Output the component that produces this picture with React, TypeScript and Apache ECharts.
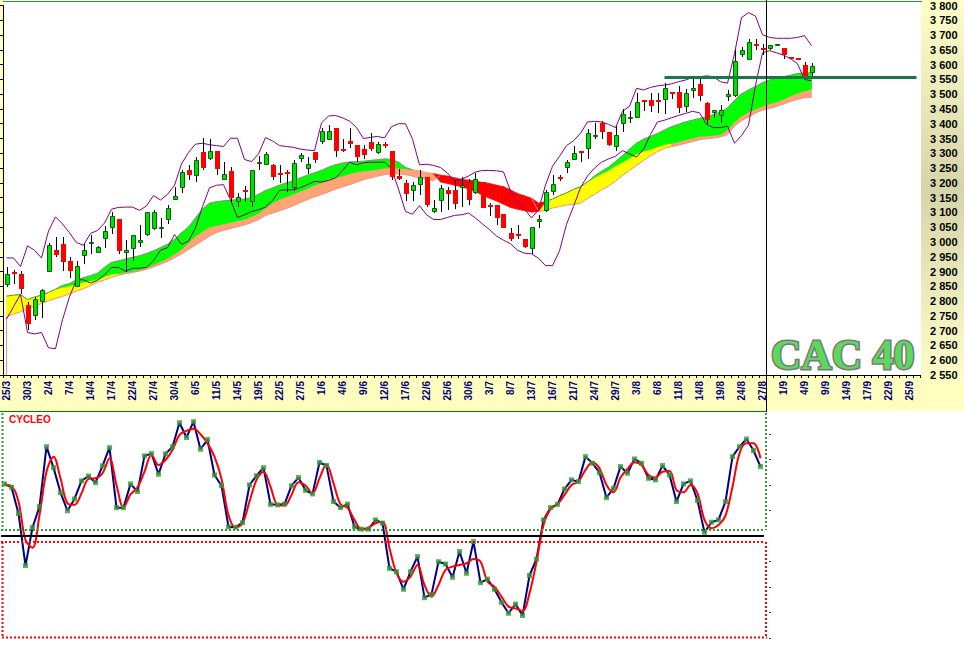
import React, { useEffect, useRef } from 'react';
import * as echarts from 'echarts';

const FONT = 'Liberation Sans, Arial, sans-serif';

// Trading days (2009), one category per session
const dates = ['25/3','26/3','27/3','30/3','31/3',
'1/4','2/4','3/4','6/4','7/4','8/4','9/4','14/4','15/4','16/4','17/4','20/4','21/4','22/4','23/4','24/4','27/4','28/4','29/4','30/4',
'4/5','5/5','6/5','7/5','8/5','11/5','12/5','13/5','14/5','15/5','18/5','19/5','20/5','21/5','22/5','25/5','26/5','27/5','28/5','29/5',
'1/6','2/6','3/6','4/6','5/6','8/6','9/6','10/6','11/6','12/6','15/6','16/6','17/6','18/6','19/6','22/6','23/6','24/6','25/6','26/6','29/6','30/6',
'1/7','2/7','3/7','6/7','7/7','8/7','9/7','10/7','13/7','14/7','15/7','16/7','17/7','20/7','21/7','22/7','23/7','24/7','27/7','28/7','29/7','30/7','31/7',
'3/8','4/8','5/8','6/8','7/8','10/8','11/8','12/8','13/8','14/8','17/8','18/8','19/8','20/8','21/8','24/8','25/8','26/8','27/8','28/8','31/8',
'1/9','2/9','3/9','4/9','7/9','8/9','9/9','10/9','11/9','14/9','15/9','16/9','17/9','18/9','21/9','22/9','23/9','24/9','25/9','28/9'];

// [open, close, low, high]
const ohlc = [
[2855,2892,2848,2917],[2900,2891,2859,2905],[2890,2842,2825,2901],[2787,2722,2703,2798],[2748,2806,2737,2814],
[2796,2839,2742,2842],[2898,2989,2898,2998],[2973,2957,2948,3016],[2992,2931,2903,3016],[2937,2901,2879,2950],
[2848,2920,2848,2937],[2953,2973,2925,2998],[2994,3000,2959,3023],[2964,2983,2962,2985],[3009,3037,2978,3053],
[3048,3089,3028,3103],[3079,2968,2959,3079],[2964,2973,2898,3007],[2975,3023,2937,3025],[2995,3007,2984,3057],
[3022,3100,3020,3100],[3044,3100,3042,3107],[3045,3050,3014,3081],[3075,3116,3061,3125],[3142,3157,3142,3187],
[3183,3237,3167,3242],[3243,3225,3209,3259],[3222,3279,3203,3286],[3305,3251,3244,3353],[3281,3309,3279,3348],
[3309,3248,3225,3309],[3208,3229,3208,3270],[3239,3150,3136,3253],[3134,3151,3117,3167],[3176,3168,3136,3190],
[3136,3242,3117,3242],[3264,3272,3244,3292],[3261,3297,3259,3305],[3261,3220,3209,3265],[3233,3229,3198,3259],
[3237,3231,3170,3244],[3183,3267,3172,3276],[3281,3294,3272,3302],[3248,3263,3231,3287],[3303,3279,3268,3303],
[3337,3376,3331,3387],[3344,3376,3344,3397],[3387,3307,3289,3387],[3313,3309,3303,3350],[3340,3333,3317,3387],
[3328,3289,3272,3328],[3314,3294,3281,3328],[3337,3314,3309,3370],[3301,3333,3298,3337],[3330,3326,3319,3337],
[3307,3220,3209,3307],[3223,3214,3209,3248],[3200,3161,3137,3209],[3172,3192,3139,3203],[3194,3220,3159,3242],
[3220,3126,3117,3220],[3100,3114,3098,3142],[3139,3183,3103,3192],[3176,3161,3109,3187],[3176,3128,3112,3209],
[3181,3192,3120,3220],[3198,3142,3126,3214],[3167,3214,3164,3234],[3203,3114,3114,3203],[3126,3118,3087,3131],
[3126,3081,3059,3126],[3096,3048,3048,3096],[3029,3011,3003,3048],[3028,3024,3009,3056],[3009,2984,2978,3009],
[2976,3050,2959,3050],[3068,3079,3046,3092],[3106,3170,3101,3176],[3168,3196,3159,3226],[3220,3217,3205,3228],
[3251,3270,3234,3279],[3278,3300,3276,3326],[3308,3303,3270,3308],[3314,3370,3281,3381],[3358,3362,3348,3403],
[3403,3372,3348,3409],[3373,3329,3325,3373],[3322,3362,3309,3392],[3398,3433,3372,3450],[3420,3423,3403,3442],
[3420,3475,3418,3503],[3479,3473,3442,3479],[3479,3459,3439,3503],[3479,3476,3437,3503],[3481,3520,3434,3537],
[3507,3501,3484,3507],[3509,3453,3437,3526],[3456,3503,3439,3518],[3512,3522,3487,3550],[3533,3494,3476,3550],
[3470,3414,3398,3473],[3437,3446,3420,3446],[3426,3446,3403,3464],[3489,3501,3476,3514],[3494,3612,3490,3648],
[3631,3651,3626,3659],[3617,3676,3614,3687],[3670,3664,3648,3687],[3657,3648,3631,3670],[3653,3667,3648,3667],
[3669,3670,3669,3670],[3657,3631,3620,3657],[3627,3625,3625,3627],[3624,3622,3622,3624],[3600,3559,3559,3609],
[3572,3594,3561,3605]
];

const bollUpper = [2946,2946,2917,2987,2972,2946,3037,3085,3061,3031,
2998,2989,3029,3039,3064,3111,3117,3118,3118,3107,
3122,3157,3142,3161,3192,3264,3303,3331,3334,3329,
3326,3323,3351,3351,3279,3272,3298,3353,3342,3326,
3323,3320,3314,3311,3309,3403,3426,3428,3420,3409,
3387,3350,3354,3357,3352,3390,3400,3400,3348,3261,
3263,3259,3252,3233,3206,3212,3223,3237,3242,3242,
3241,3237,3172,3137,3112,3081,3109,3193,3256,3290,
3326,3342,3368,3406,3408,3406,3398,3387,3442,3459,
3520,3514,3523,3528,3531,3535,3542,3548,3557,3559,
3562,3559,3542,3537,3637,3759,3776,3764,3701,3692,
3689,3689,3689,3692,3698,3664];

const bollLower = [2739,2781,2823,2694,2689,2694,2642,2639,2737,2815,
2872,2872,2861,2870,2889,2914,2914,2901,2911,2911,
2914,2937,2972,2981,3025,2992,3003,3048,3120,3183,
3192,3194,3142,3083,3092,3103,3109,3118,3140,3175,
3176,3177,3184,3194,3205,3203,3208,3217,3242,3270,
3261,3268,3270,3270,3270,3248,3179,3103,3094,3123,
3092,3076,3076,3083,3090,3092,3098,3081,3061,3042,
3020,3006,2994,2972,2962,2960,2945,2920,2920,2970,
3060,3120,3184,3223,3250,3270,3281,3290,3309,3298,
3287,3314,3364,3406,3412,3420,3428,3435,3442,3437,
3398,3387,3387,3392,3334,3360,3395,3530,3640,3647,
3640,3632,3620,3603,3550,3545];

// three moving averages forming the coloured ribbon
const maFast = [2817,2820,2822,2805,2814,2820,2829,2840,2853,2859,
2872,2879,2886,2894,2914,2931,2936,2942,2948,2953,
2961,2970,2981,2992,3009,3031,3050,3081,3112,3131,
3136,3139,3141,3143,3145,3150,3161,3174,3183,3192,
3200,3207,3217,3226,3234,3242,3253,3261,3267,3270,
3272,3273,3276,3278,3281,3279,3270,3252,3244,3240,
3234,3231,3203,3198,3192,3187,3179,3170,3159,3148,
3139,3128,3117,3111,3106,3101,3103,3137,3145,3157,
3166,3178,3187,3203,3223,3239,3253,3272,3292,3314,
3334,3348,3357,3367,3379,3390,3398,3406,3412,3418,
3423,3431,3439,3453,3479,3501,3514,3526,3539,3548,
3553,3559,3564,3570,3572,3572];

const maMid = [2817,2820,2822,2805,2814,2820,2829,2840,2847,2851,
2859,2864,2869,2873,2883,2892,2894,2898,2901,2905,
2914,2923,2934,2945,2959,2975,2997,3020,3036,3050,
3056,3061,3066,3072,3077,3086,3097,3114,3132,3144,
3153,3162,3172,3181,3192,3200,3209,3217,3223,3231,
3237,3240,3243,3246,3250,3251,3250,3248,3244,3240,
3234,3231,3226,3223,3217,3212,3209,3206,3201,3198,
3192,3187,3176,3164,3156,3148,3131,3137,3145,3157,
3166,3178,3187,3203,3218,3231,3242,3257,3270,3284,
3298,3307,3314,3322,3330,3334,3339,3346,3351,3357,
3359,3361,3364,3379,3406,3426,3439,3450,3459,3468,
3474,3483,3494,3503,3511,3517];

const maSlow = [2747,2756,2764,2773,2783,2792,2801,2809,2816,2825,
2834,2842,2853,2864,2872,2881,2888,2893,2897,2902,
2908,2916,2925,2935,2947,2960,2975,2990,3005,3020,
3032,3040,3046,3052,3058,3066,3076,3090,3098,3106,
3114,3123,3134,3144,3153,3161,3170,3179,3187,3194,
3203,3211,3217,3223,3228,3231,3231,3228,3223,3217,
3212,3208,3226,3223,3217,3212,3209,3206,3201,3198,
3192,3187,3176,3164,3156,3148,3103,3107,3115,3120,
3125,3128,3131,3148,3161,3176,3189,3206,3226,3242,
3259,3276,3292,3306,3317,3323,3328,3334,3340,3346,
3350,3352,3356,3364,3392,3411,3423,3437,3446,3452,
3459,3467,3476,3483,3489,3490];

// colour runs per segment: upper ribbon G=green R=red, lower ribbon Y=yellow S=salmon
const upperRuns: [string, number][] = [['G', 61], ['R', 16], ['G', 38]];
const lowerRuns: [string, number][] = [['Y', 16], ['S', 60], ['Y', 19], ['S', 20]];

const resistanceLevel = 3557;
const resistanceStart = '7/8';

const cycleo = [20.4,19.1,8.8,-11.6,3.3,11.5,35.0,26.8,17.0,9.9,
14.5,21.6,23.5,20.9,27.5,34.6,11.1,11.1,20.4,17.4,
31.4,32.3,24.2,32.2,35.0,44.4,38.6,44.8,34.0,37.8,
23.9,19.7,3.6,3.4,5.2,20.0,23.6,26.8,12.4,12.2,
12.5,19.7,22.9,17.9,16.5,28.8,27.6,13.5,11.1,12.5,
3.6,2.7,2.7,6.3,5.0,-12.7,-14.0,-20.9,-14.0,-8.1,
-24.2,-22.9,-10.1,-11.0,-16.2,-6.1,-14.6,-2.2,-18.3,-16.9,
-20.9,-26.0,-30.3,-26.7,-31.2,-15.5,-9.0,6.3,11.1,12.4,
18.4,22.0,21.3,31.1,28.5,24.8,15.0,18.7,27.2,24.6,
30.2,28.5,22.6,22.0,27.6,23.9,13.5,20.4,21.6,13.9,
1.4,5.4,6.3,13.5,31.1,35.0,38.0,33.5,27.2];

const cycleoSignal = [20.0,19.6,13.5,-1.6,-4.6,8.2,25.2,31.1,22.6,12.8,
12.2,16.7,22.4,22.6,24.6,30.5,20.0,11.1,16.3,19.0,
25.2,31.8,27.8,29.8,33.7,39.6,41.2,42.0,39.9,36.3,
31.1,22.4,8.2,3.3,5.0,13.5,22.0,25.2,19.3,12.2,
11.9,16.1,21.1,19.8,16.7,22.6,28.1,20.7,12.4,11.1,
6.3,2.7,3.3,5.0,5.6,-4.8,-14.6,-17.9,-15.9,-11.4,
-19.2,-23.8,-19.2,-13.3,-12.0,-11.4,-10.7,-9.0,-10.1,-17.9,
-19.9,-23.8,-27.7,-28.4,-29.4,-22.5,-10.1,4.3,10.6,12.4,
16.1,20.0,21.3,25.9,28.9,26.5,20.0,17.1,22.9,26.3,
28.9,27.8,23.9,22.9,25.2,25.5,18.0,17.1,20.0,16.7,
6.3,3.0,4.3,8.0,19.3,32.4,36.3,36.3,30.5];

const cycleoUpper = 2.35;
const cycleoLower = -2.2;
const cycleoTicks = [-40, -30, -20, -10, 10, 20, 30, 40];

function expandRuns(runs: [string, number][]) {
  const out: string[] = [];
  runs.forEach(([c, n]) => { for (let k = 0; k < n; k++) out.push(c); });
  return out;
}

function priceLabel(v: number) {
  const t = Math.floor(v / 1000);
  const r = Math.round(v % 1000);
  return t + ' ' + String(r).padStart(3, '0');
}

function buildOption() {
  const uSeg = expandRuns(upperRuns);
  const lSeg = expandRuns(lowerRuns);
  const bandData: number[][] = [];
  for (let i = 0; i < maFast.length - 1; i++) {
    bandData.push([i, maFast[i], maMid[i], maSlow[i], maFast[i + 1], maMid[i + 1], maSlow[i + 1],
      uSeg[i] === 'R' ? 1 : 0, lSeg[i] === 'Y' ? 0 : 1]);
  }
  const candleData = ohlc.map((d, i) => [i, d[0], d[1], d[2], d[3]]);

  const bandRender = (params: any, api: any) => {
    const i = api.value(0);
    const a0 = api.value(1), b0 = api.value(2), c0 = api.value(3);
    const a1 = api.value(4), b1 = api.value(5), c1 = api.value(6);
    const uc = api.value(7), lc = api.value(8);
    const P = (x: number, v: number) => api.coord([x, v]);
    const children: any[] = [];
    const hasLower = Math.abs(b0 - c0) > 0.1 || Math.abs(b1 - c1) > 0.1;
    const hasUpper = Math.abs(a0 - b0) > 0.1 || Math.abs(a1 - b1) > 0.1;
    const lowerColor = lc === 0 ? '#ffff00' : '#ffa474';
    const upperColor = uc === 0 ? '#00ff00' : '#ff0000';
    if (hasLower) {
      children.push({ type: 'polygon', shape: { points: [P(i, b0), P(i + 1, b1), P(i + 1, c1), P(i, c0)] },
        style: { fill: lowerColor, stroke: lowerColor, lineWidth: 0.8 } });
    }
    if (hasUpper) {
      children.push({ type: 'polygon', shape: { points: [P(i, a0), P(i + 1, a1), P(i + 1, b1), P(i, b0)] },
        style: { fill: upperColor, stroke: upperColor, lineWidth: 0.8 } });
    }
    if (hasUpper && uc === 0) {
      children.push({ type: 'polyline', shape: { points: [P(i, a0), P(i + 1, a1)] },
        style: { stroke: '#8c8c8c', lineWidth: 1, fill: null } });
    } else if (!hasUpper && hasLower) {
      children.push({ type: 'polyline', shape: { points: [P(i, b0), P(i + 1, b1)] },
        style: { stroke: lc === 0 ? '#3a963a' : '#ff9a80', lineWidth: 1, fill: null } });
    }
    if (hasLower) {
      children.push({ type: 'polyline', shape: { points: [P(i, c0), P(i + 1, c1)] },
        style: { stroke: '#ff8a8a', lineWidth: 1, fill: null } });
    }
    if (i === 0) {
      children.push({ type: 'polyline', shape: { points: [P(0, c0), P(0, 2550)] },
        style: { stroke: '#ff8a8a', lineWidth: 1, fill: null } });
    }
    return { type: 'group', children };
  };

  const candleRender = (params: any, api: any) => {
    const i = api.value(0);
    const o = api.value(1), c = api.value(2), l = api.value(3), h = api.value(4);
    const pO = api.coord([i, o]), pC = api.coord([i, c]);
    const pL = api.coord([i, l]), pH = api.coord([i, h]);
    const xi = Math.round(pO[0]);
    const up = c >= o;
    let top = Math.round(Math.min(pO[1], pC[1]));
    let bot = Math.round(Math.max(pO[1], pC[1]));
    if (bot - top < 2) { bot = top + 2; }
    const children: any[] = [];
    if (pL[1] - pH[1] > 1) {
      children.push({ type: 'line', shape: { x1: xi + 0.5, y1: Math.round(pH[1]), x2: xi + 0.5, y2: Math.round(pL[1]) },
        style: { stroke: '#000000', lineWidth: 1 } });
    }
    if (up) {
      children.push({ type: 'rect', shape: { x: xi - 1.5, y: top + 0.5, width: 4, height: Math.max(bot - top - 1, 1) },
        style: { fill: '#00e000', stroke: '#006400', lineWidth: 1 } });
    } else {
      children.push({ type: 'rect', shape: { x: xi - 2, y: top, width: 5, height: bot - top },
        style: { fill: '#ff0000' } });
    }
    return { type: 'group', children };
  };

  const yGrad = new echarts.graphic.LinearGradient(0, 0, 0, 1, [
    { offset: 0, color: '#ffffc8' },
    { offset: 0.5, color: '#d6d4aa' },
    { offset: 1, color: '#fdfdc8' },
  ]);

  const dotted = (x1: number, y1: number, x2: number, y2: number, color: string) => ({
    type: 'line', silent: true, z: 40,
    shape: { x1, y1, x2, y2 },
    style: { stroke: color, lineWidth: 2, lineDash: [2, 2] },
  });

  return {
    animation: false,
    backgroundColor: '#ffffff',
    title: {
      text: 'CYCLEO', left: 9, top: 414, padding: 0,
      textStyle: { color: '#ff0000', fontSize: 10, fontWeight: 'bold', fontFamily: FONT },
    },
    grid: [
      { left: 3, top: 1, width: 917, height: 374 },
      { left: 1, top: 412, width: 763, height: 226 },
    ],
    xAxis: [
      {
        gridIndex: 0, type: 'category', data: dates, boundaryGap: true,
        axisLine: { show: true, lineStyle: { color: '#000000', width: 1 } },
        axisTick: { show: true, interval: 0, length: 3, lineStyle: { color: '#000000' } },
        axisLabel: {
          interval: (idx: number) => idx % 3 === 0, rotate: 90, margin: 6,
          color: '#000080', fontSize: 10, fontWeight: 'bold', fontFamily: FONT,
        },
        splitLine: { show: false },
      },
      {
        gridIndex: 1, type: 'category', data: dates.slice(0, cycleo.length), boundaryGap: true, show: false,
      },
    ],
    yAxis: [
      {
        gridIndex: 0, type: 'value', position: 'right', min: 2550, max: 3800, interval: 50,
        axisLine: { show: false }, axisTick: { show: false }, splitLine: { show: false },
        axisLabel: { margin: 10, color: '#000000', fontSize: 11, fontWeight: 'bold', fontFamily: FONT, formatter: priceLabel },
      },
      {
        gridIndex: 0, type: 'value', position: 'left', min: 2550, max: 3800, interval: 50,
        axisLine: { show: true, lineStyle: { color: '#000000', width: 1 } },
        axisTick: { show: true, length: 3, lineStyle: { color: '#000000' } },
        axisLabel: { show: false }, splitLine: { show: false },
      },
      {
        gridIndex: 1, type: 'value', position: 'right', offset: 5, min: -40, max: 48.6,
        axisLine: { show: false },
        axisTick: { show: true, length: 2, customValues: cycleoTicks, lineStyle: { color: '#333366', width: 1 } },
        axisLabel: { show: false }, splitLine: { show: false },
      },
    ],
    series: [
      {
        type: 'custom', name: 'ribbon', xAxisIndex: 0, yAxisIndex: 0, z: 1,
        renderItem: bandRender, data: bandData, encode: { x: 0, y: [1, 2, 3] }, silent: true,
      },
      {
        type: 'line', name: 'bollUp', xAxisIndex: 0, yAxisIndex: 0, z: 2, data: bollUpper, symbol: 'none',
        lineStyle: { color: '#800080', width: 1 }, silent: true,
        markLine: {
          silent: true, symbol: 'none', label: { show: false },
          lineStyle: { color: '#17784c', width: 3, type: 'solid' },
          data: [[{ coord: [resistanceStart, resistanceLevel] }, { coord: [dates[dates.length - 1], resistanceLevel] }]],
        },
      },
      {
        type: 'line', name: 'bollLow', xAxisIndex: 0, yAxisIndex: 0, z: 2, data: bollLower, symbol: 'none',
        lineStyle: { color: '#800080', width: 1 }, silent: true,
      },
      {
        type: 'custom', name: 'candles', xAxisIndex: 0, yAxisIndex: 0, z: 3,
        renderItem: candleRender, data: candleData, encode: { x: 0, y: [1, 2, 3, 4] }, silent: true,
      },
      {
        type: 'line', name: 'cycleo', xAxisIndex: 1, yAxisIndex: 2, z: 2, data: cycleo, symbol: 'none',
        lineStyle: { color: '#000080', width: 2 }, silent: true,
        markLine: {
          silent: true, symbol: 'none', label: { show: false },
          data: [
            { yAxis: cycleoUpper, lineStyle: { color: '#339933', width: 2, type: [2, 2] } },
            { yAxis: 0, lineStyle: { color: '#000000', width: 2, type: 'solid' } },
            { yAxis: cycleoLower, lineStyle: { color: '#ff0000', width: 2, type: [2, 2] } },
          ],
        },
      },
      {
        type: 'line', name: 'signal', xAxisIndex: 1, yAxisIndex: 2, z: 3, data: cycleoSignal, symbol: 'none',
        smooth: 0.35, lineStyle: { color: '#ff0000', width: 2 }, silent: true,
      },
      {
        type: 'scatter', name: 'points', xAxisIndex: 1, yAxisIndex: 2, z: 4, data: cycleo,
        symbol: 'rect', symbolSize: 5, itemStyle: { color: '#339933' }, silent: true,
      },
    ],
    graphic: [
      { type: 'rect', z: -10, silent: true, shape: { x: 0, y: 0, width: 3, height: 376 }, style: { fill: '#ffffc0' } },
      { type: 'rect', z: -10, silent: true, shape: { x: 0, y: 376, width: 964, height: 35 }, style: { fill: '#ffffc0' } },
      { type: 'rect', z: -9, silent: true, shape: { x: 921, y: 0, width: 43, height: 377 }, style: { fill: yGrad } },
      { type: 'line', z: 30, silent: true, shape: { x1: 3, y1: 1.5, x2: 922, y2: 1.5 }, style: { stroke: '#2e9e2e', lineWidth: 1 } },
      { type: 'line', z: 30, silent: true, shape: { x1: 0, y1: 411.5, x2: 767, y2: 411.5 }, style: { stroke: '#008000', lineWidth: 1 } },
      { type: 'line', z: 50, silent: true, shape: { x1: 766.5, y1: 0, x2: 766.5, y2: 412 }, style: { stroke: '#000000', lineWidth: 1 } },
      dotted(2.5, 413, 2.5, 530, '#339933'),
      dotted(766, 413, 766, 530, '#339933'),
      dotted(2.5, 542, 2.5, 638, '#ff0000'),
      dotted(766, 542, 766, 638, '#ff0000'),
      dotted(2, 637.5, 767, 637.5, '#ff0000'),
      {
        type: 'text', x: 771, y: 355, z: 22, silent: true,
        style: {
          text: 'CAC 40', fontSize: 42, fontWeight: 'bold', fontFamily: 'Liberation Serif, serif',
          fill: '#5cd85c', stroke: '#787878', lineWidth: 3, verticalAlign: 'middle', align: 'left',
        },
      },
    ],
  };
}

export default function App() {
  const ref = useRef<HTMLDivElement>(null);
  useEffect(() => {
    if (!ref.current) return;
    const chart = echarts.init(ref.current, null, { renderer: 'svg' });
    chart.setOption(buildOption() as any);
    return () => chart.dispose();
  }, []);
  return (
    <div
      ref={ref}
      style={{ position: 'absolute', left: 0, top: 0, width: 964, height: 645, background: '#ffffff' }}
    />
  );
}
